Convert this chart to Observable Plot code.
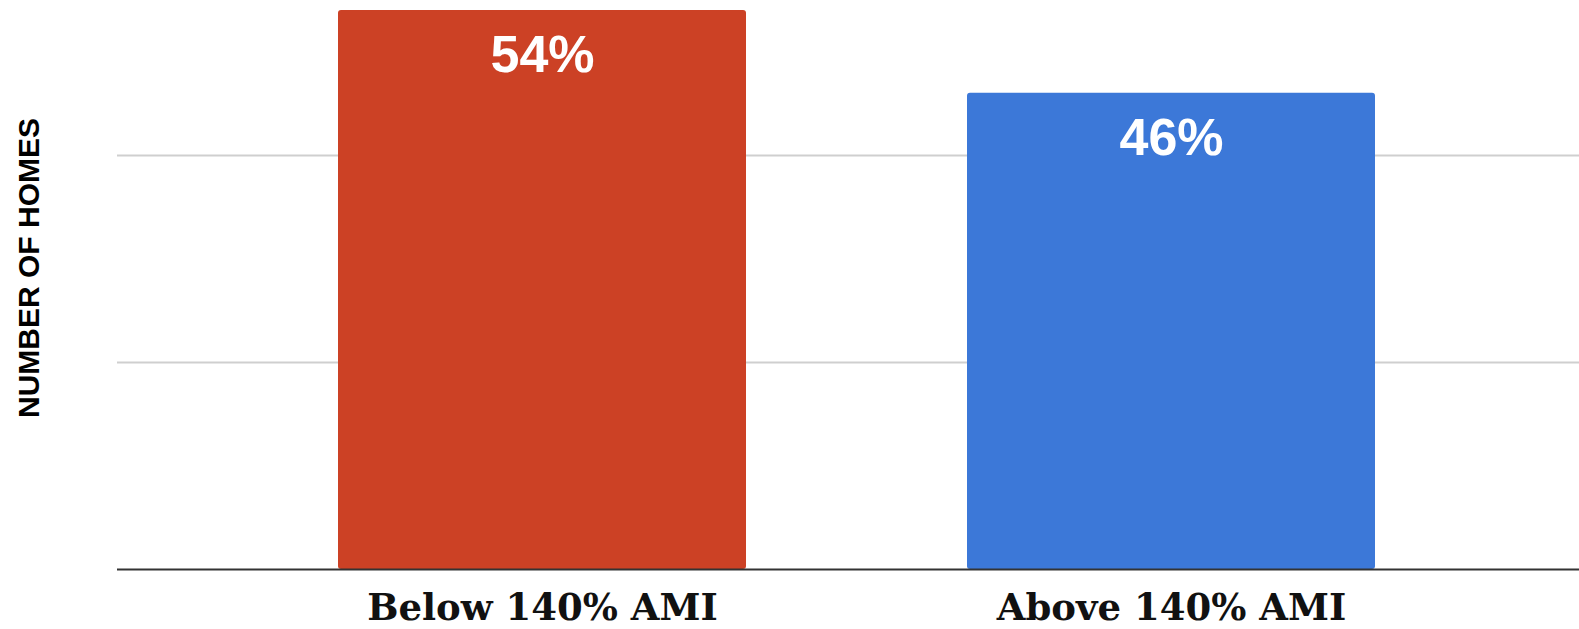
<!DOCTYPE html>
<html>
<head>
<meta charset="utf-8">
<script src="https://cdn.jsdelivr.net/npm/d3@7"></script>
<script src="https://cdn.jsdelivr.net/npm/@observablehq/plot@0.6"></script>
<style>
  html, body { margin: 0; padding: 0; background: #fff; }
  #chart svg { display: block; }
</style>
</head>
<body>
<div id="chart"></div>
<script>
const categories = ["Below 140% AMI", "Above 140% AMI"];
const shares = [54, 46];
const shareLabels = ["54%", "46%"];
const gridTicks = [20, 40];
const barColors = ["#cc4125", "#3c78d8"];
const yAxisLabel = "NUMBER OF HOMES";

const data = categories.map((c, i) => ({category: c, share: shares[i], label: shareLabels[i]}));

const chart = Plot.plot({
  width: 1579,
  height: 629,
  marginTop: 10,
  marginBottom: 60,
  marginLeft: 117,
  marginRight: 0,
  style: {background: "#fff"},
  x: {domain: categories, range: [117, 1596], padding: 0.351, label: null},
  y: {domain: [0, 54], label: null},
  color: {domain: categories, range: barColors},
  marks: [
    Plot.gridY(gridTicks, {stroke: "#cfcfcf", strokeOpacity: 1, strokeWidth: 2}),
    Plot.barY(data, {x: "category", y: "share", fill: "category", rx: 3}),
    Plot.ruleY([0], {stroke: "#333", strokeWidth: 2}),
    Plot.text(data, {x: "category", y: "share", text: "label", dy: 45, fill: "#fff",
      fontSize: 52, fontWeight: "bold", fontFamily: "Liberation Sans, Arial, sans-serif"}),
    Plot.axisX({tickSize: 0, tickPadding: 24, fontSize: 37, fontWeight: "bold",
      fontFamily: "DejaVu Serif, Georgia, serif", fill: "#111", label: null}),
    Plot.axisY({ticks: [], label: null}),
    Plot.text([yAxisLabel], {frameAnchor: "left", textAnchor: "middle", rotate: -90, dx: -88, dy: -22, text: d => d,
      fontSize: 30, fontWeight: "bold", fontFamily: "Liberation Sans, Arial, sans-serif", fill: "#000"})
  ]
});
document.getElementById("chart").appendChild(chart);
</script>
</body>
</html>
